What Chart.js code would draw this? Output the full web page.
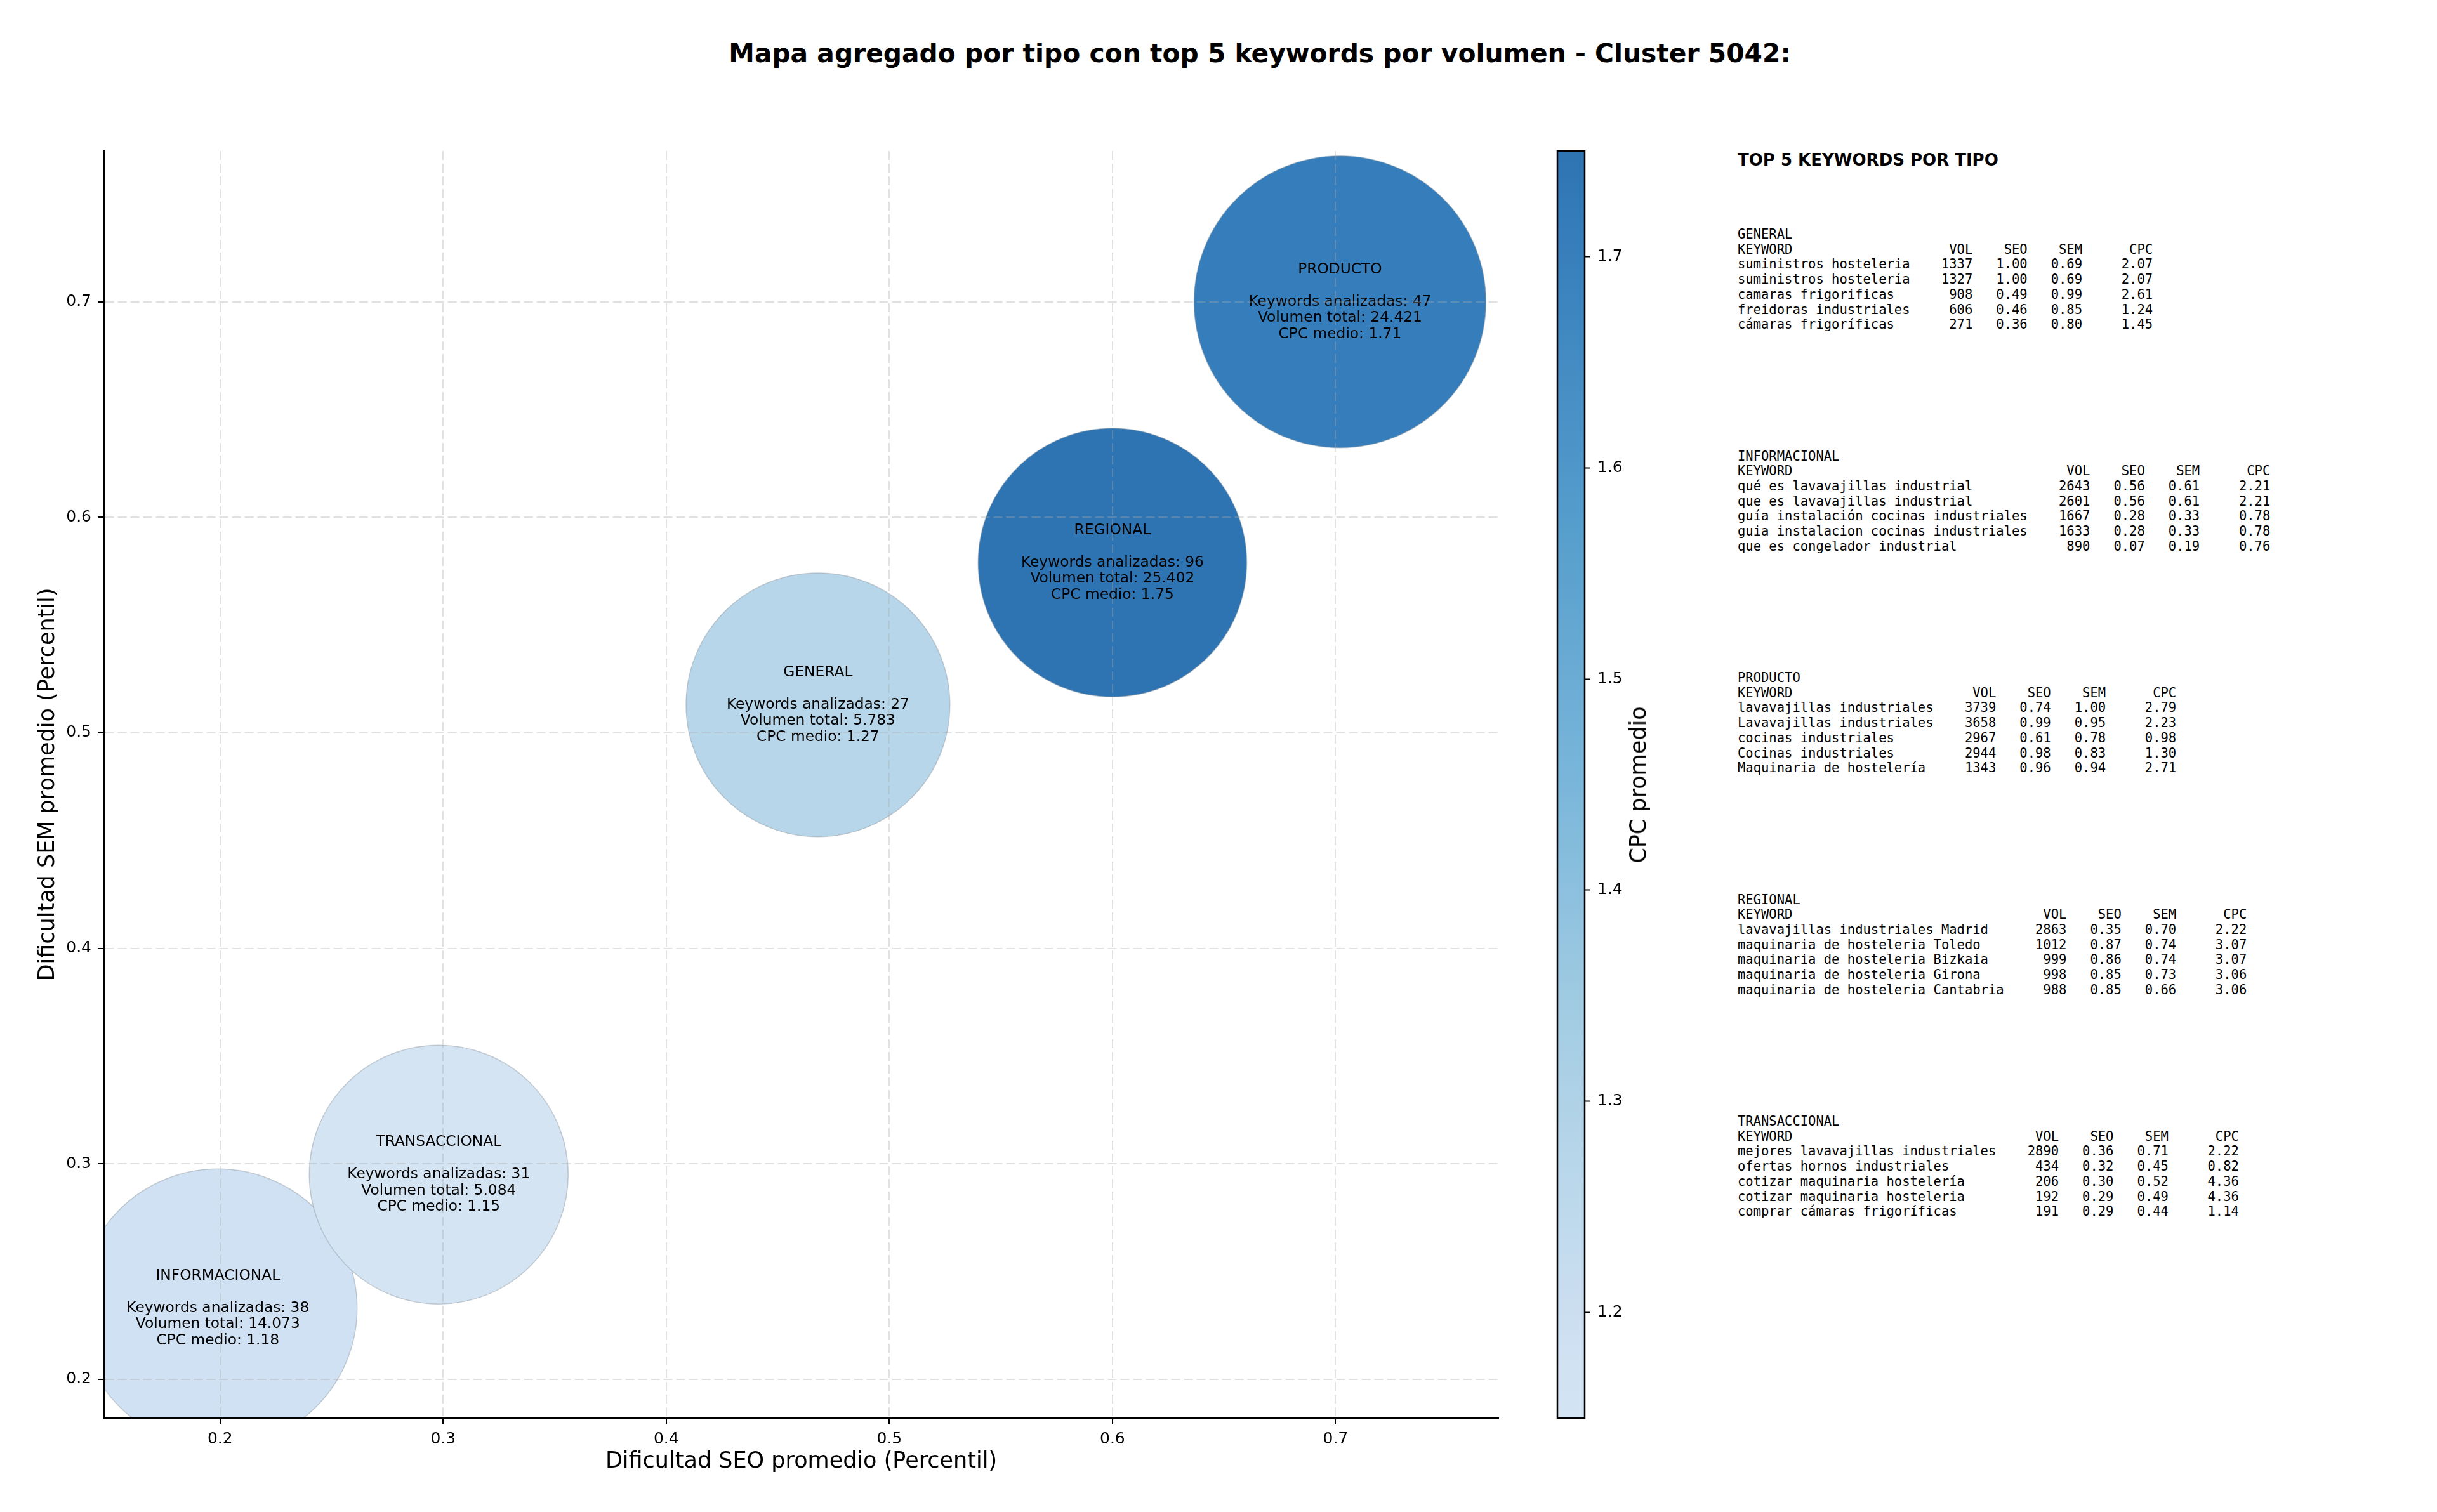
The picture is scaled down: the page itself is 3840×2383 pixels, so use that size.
<!DOCTYPE html>
<html>
<head>
<meta charset="utf-8">
<script src="https://cdn.jsdelivr.net/npm/chart.js@4.4.0/dist/chart.umd.min.js"></script>
<style>
  html, body { margin: 0; padding: 0; background: #fff; }
  #page { position: relative; width: 3840px; height: 2383px; overflow: hidden; font-family: 'DejaVu Sans', sans-serif; color: #000; }
  #mainWrap { position: absolute; left: 0; top: 0; width: 2450px; height: 2383px; }
  #cbarWrap { position: absolute; left: 2440px; top: 0; width: 160px; height: 2383px; }
  #title { position: absolute; left: 485px; width: 3000px; top: 59px; line-height: 50px; text-align: center; font-weight: bold; font-size: 40.8px; white-space: nowrap; }
  #cbarLabel { position: absolute; left: 2581px; top: 1237px; transform: translate(-50%, -50%) rotate(-90deg); font-size: 35px; white-space: nowrap; }
  #panel { position: absolute; left: 2738px; top: 0; }
  #panelTitle { position: absolute; left: 0; top: 236px; line-height: 32px; font-weight: bold; font-size: 26px; white-space: nowrap; }
  .block { position: absolute; left: 0; margin: 0; font-family: 'DejaVu Sans Mono', monospace; font-size: 20.5px; line-height: 23.7px; white-space: pre; }
</style>
</head>
<body>
<div id="page">
  <div id="title">Mapa agregado por tipo con top 5 keywords por volumen - Cluster 5042:</div>
  <div id="mainWrap"><canvas id="main" width="2450" height="2383" style="width:2450px;height:2383px"></canvas></div>
  <div id="cbarWrap"><canvas id="cbar" width="160" height="2383" style="width:160px;height:2383px"></canvas></div>
  <div id="cbarLabel">CPC promedio</div>
  <div id="panel"><div id="panelTitle">TOP 5 KEYWORDS POR TIPO</div></div>
</div>
<script>
// --- datos agregados por tipo ---
const tipos = ['GENERAL', 'INFORMACIONAL', 'PRODUCTO', 'REGIONAL', 'TRANSACCIONAL'];
const seoMedio = [0.468, 0.199, 0.702, 0.600, 0.298];
const semMedio = [0.513, 0.233, 0.700, 0.579, 0.295];
const cpcMedio = [1.27, 1.18, 1.71, 1.75, 1.15];
const numKeywords = [27, 38, 47, 96, 31];
const volumenTotal = [5783, 14073, 24421, 25402, 5084];

// ticks
const xTicks = [0.2, 0.3, 0.4, 0.5, 0.6, 0.7];
const yTicks = [0.2, 0.3, 0.4, 0.5, 0.6, 0.7];
const cbarTicks = [1.2, 1.3, 1.4, 1.5, 1.6, 1.7];

// --- top 5 keywords por tipo (mismo orden que tipos) ---
const topKeyword = [
  ['suministros hosteleria', 'suministros hostelería', 'camaras frigorificas', 'freidoras industriales', 'cámaras frigoríficas'],
  ['qué es lavavajillas industrial', 'que es lavavajillas industrial', 'guía instalación cocinas industriales', 'guia instalacion cocinas industriales', 'que es congelador industrial'],
  ['lavavajillas industriales', 'Lavavajillas industriales', 'cocinas industriales', 'Cocinas industriales', 'Maquinaria de hostelería'],
  ['lavavajillas industriales Madrid', 'maquinaria de hosteleria Toledo', 'maquinaria de hosteleria Bizkaia', 'maquinaria de hosteleria Girona', 'maquinaria de hosteleria Cantabria'],
  ['mejores lavavajillas industriales', 'ofertas hornos industriales', 'cotizar maquinaria hostelería', 'cotizar maquinaria hosteleria', 'comprar cámaras frigoríficas']
];
const topVol = [
  [1337, 1327, 908, 606, 271],
  [2643, 2601, 1667, 1633, 890],
  [3739, 3658, 2967, 2944, 1343],
  [2863, 1012, 999, 998, 988],
  [2890, 434, 206, 192, 191]
];
const topSeo = [
  [1.00, 1.00, 0.49, 0.46, 0.36],
  [0.56, 0.56, 0.28, 0.28, 0.07],
  [0.74, 0.99, 0.61, 0.98, 0.96],
  [0.35, 0.87, 0.86, 0.85, 0.85],
  [0.36, 0.32, 0.30, 0.29, 0.29]
];
const topSem = [
  [0.69, 0.69, 0.99, 0.85, 0.80],
  [0.61, 0.61, 0.33, 0.33, 0.19],
  [1.00, 0.95, 0.78, 0.83, 0.94],
  [0.70, 0.74, 0.74, 0.73, 0.66],
  [0.71, 0.45, 0.52, 0.49, 0.44]
];
const topCpc = [
  [2.07, 2.07, 2.61, 1.24, 1.45],
  [2.21, 2.21, 0.78, 0.78, 0.76],
  [2.79, 2.23, 0.98, 1.30, 2.71],
  [2.22, 3.07, 3.07, 3.06, 3.06],
  [2.22, 0.82, 4.36, 4.36, 1.14]
];

// --- colormap (Blues, tramo 0.2 - 0.8, con alpha 0.9 sobre blanco) ---
const bluesStops = [
  [0.0, [247, 251, 255]], [0.125, [222, 235, 247]], [0.25, [198, 219, 239]],
  [0.375, [158, 202, 225]], [0.5, [107, 174, 214]], [0.625, [66, 146, 198]],
  [0.75, [33, 113, 181]], [0.875, [8, 81, 156]], [1.0, [8, 48, 107]]
];
function blues(p) {
  for (let i = 1; i < bluesStops.length; i++) {
    const [p1, c1] = bluesStops[i];
    const [p0, c0] = bluesStops[i - 1];
    if (p <= p1) {
      const f = (p - p0) / (p1 - p0);
      return c0.map((v, k) => v + (c1[k] - v) * f);
    }
  }
  return bluesStops[bluesStops.length - 1][1];
}
const cpcMin = Math.min(...cpcMedio);
const cpcMax = Math.max(...cpcMedio);
function cmap(t) {
  const c = blues(0.2 + 0.6 * t).map(v => Math.round(0.9 * v + 0.1 * 255));
  return `rgb(${c[0]},${c[1]},${c[2]})`;
}
const cpcColor = v => cmap((v - cpcMin) / (cpcMax - cpcMin));

// tamaño de burbuja segun volumen medio por keyword
const bubbleRadius = i => Math.sqrt(36417 + 31.7 * volumenTotal[i] / numKeywords[i]);

const miles = n => n.toString().replace(/\B(?=(\d{3})+(?!\d))/g, '.');

// --- panel de texto ---
const panel = document.getElementById('panel');
tipos.forEach((tipo, t) => {
  const w = Math.max(...topKeyword[t].map(k => k.length));
  const lines = [tipo,
    'KEYWORD'.padEnd(w) + 'VOL'.padStart(8) + 'SEO'.padStart(7) + 'SEM'.padStart(7) + 'CPC'.padStart(9)];
  topKeyword[t].forEach((kw, i) => {
    lines.push(kw.padEnd(w) + String(topVol[t][i]).padStart(8) + topSeo[t][i].toFixed(2).padStart(7) +
      topSem[t][i].toFixed(2).padStart(7) + topCpc[t][i].toFixed(2).padStart(9));
  });
  const pre = document.createElement('pre');
  pre.className = 'block';
  pre.style.top = (358 + t * 349.5) + 'px';
  pre.textContent = lines.join('\n');
  panel.appendChild(pre);
});

Chart.defaults.font.family = "'DejaVu Sans', sans-serif";
Chart.defaults.color = '#000';

const bubbleLabels = {
  id: 'bubbleLabels',
  afterDatasetsDraw(chart) {
    const ctx = chart.ctx;
    const meta = chart.getDatasetMeta(0);
    ctx.save();
    ctx.font = "23.3px 'DejaVu Sans'";
    ctx.fillStyle = '#000';
    ctx.textAlign = 'center';
    ctx.textBaseline = 'middle';
    meta.data.forEach((el, i) => {
      const lines = [tipos[i], '', 'Keywords analizadas: ' + numKeywords[i],
        'Volumen total: ' + miles(volumenTotal[i]), 'CPC medio: ' + cpcMedio[i].toFixed(2)];
      lines.forEach((txt, k) => ctx.fillText(txt, el.x, el.y + (k - 2) * 25.6));
    });
    ctx.restore();
  }
};

const gridStyle = {
  color: 'rgba(170,170,170,0.35)',
  lineWidth: 2,
  z: 1,
  drawTicks: true,
  tickLength: 10,
  tickColor: '#000',
  tickWidth: 2,
  tickBorderDash: []
};

new Chart(document.getElementById('main'), {
  type: 'bubble',
  data: {
    datasets: [{
      data: tipos.map((t, i) => ({ x: seoMedio[i], y: semMedio[i], r: bubbleRadius(i) })),
      backgroundColor: cpcMedio.map(cpcColor),
      borderColor: 'rgba(140,150,160,0.45)',
      borderWidth: 1.5,
      clip: 0
    }]
  },
  options: {
    responsive: false,
    animation: false,
    devicePixelRatio: 1,
    layout: { autoPadding: false, padding: { left: 0, right: 89, top: 238, bottom: 0 } },
    plugins: { legend: { display: false }, tooltip: { enabled: false } },
    scales: {
      x: {
        type: 'linear', min: 0.148, max: 0.773,
        afterFit: s => { s.height = 148; },
        afterBuildTicks: s => { s.ticks = xTicks.map(v => ({ value: v })); },
        grid: gridStyle,
        border: { display: true, color: '#000', width: 2.5, dash: [14, 6], z: 1 },
        ticks: { padding: 8, font: { size: 25 }, callback: v => v.toFixed(1) },
        title: { display: true, text: 'Dificultad SEO promedio (Percentil)', font: { size: 35 }, padding: { top: 0, bottom: 58 } }
      },
      y: {
        type: 'linear', min: 0.182, max: 0.770,
        afterFit: s => { s.width = 164; },
        afterBuildTicks: s => { s.ticks = yTicks.map(v => ({ value: v })); },
        grid: gridStyle,
        border: { display: true, color: '#000', width: 2.5, dash: [14, 6], z: 1 },
        ticks: { padding: 10, font: { size: 25 }, callback: v => v.toFixed(1) },
        title: { display: true, text: 'Dificultad SEM promedio (Percentil)', font: { size: 35 }, padding: { top: 55, bottom: 0 } }
      }
    }
  },
  plugins: [bubbleLabels]
});

// --- barra de color ---
const outline = {
  id: 'outline',
  afterDatasetsDraw(chart) {
    const { ctx, chartArea: a } = chart;
    ctx.save();
    ctx.strokeStyle = '#000';
    ctx.lineWidth = 2.5;
    ctx.strokeRect(a.left, a.top, a.right - a.left, a.bottom - a.top);
    ctx.restore();
  }
};

new Chart(document.getElementById('cbar'), {
  type: 'bar',
  data: {
    labels: ['CPC'],
    datasets: [{
      data: [[cpcMin, cpcMax]],
      backgroundColor: c => {
        const { chart } = c;
        if (!chart.chartArea) return cmap(0.5);
        const y = chart.scales.y;
        const g = chart.ctx.createLinearGradient(0, y.getPixelForValue(cpcMin), 0, y.getPixelForValue(cpcMax));
        for (let k = 0; k <= 20; k++) g.addColorStop(k / 20, cmap(k / 20));
        return g;
      },
      borderWidth: 0,
      barPercentage: 1,
      categoryPercentage: 1
    }]
  },
  options: {
    responsive: false,
    animation: false,
    devicePixelRatio: 1,
    layout: { autoPadding: false, padding: { left: 14, right: 0, top: 238, bottom: 148 } },
    plugins: { legend: { display: false }, tooltip: { enabled: false } },
    scales: {
      x: { display: false },
      y: {
        position: 'right', min: cpcMin, max: cpcMax,
        afterFit: s => { s.width = 103; },
        afterBuildTicks: s => { s.ticks = cbarTicks.map(v => ({ value: v })); },
        grid: { drawOnChartArea: false, drawTicks: true, tickLength: 9, tickColor: '#000', tickWidth: 2, tickBorderDash: [] },
        border: { display: false },
        ticks: { padding: 11, font: { size: 25 }, callback: v => v.toFixed(1) }
      }
    }
  },
  plugins: [outline]
});
</script>
</body>
</html>
